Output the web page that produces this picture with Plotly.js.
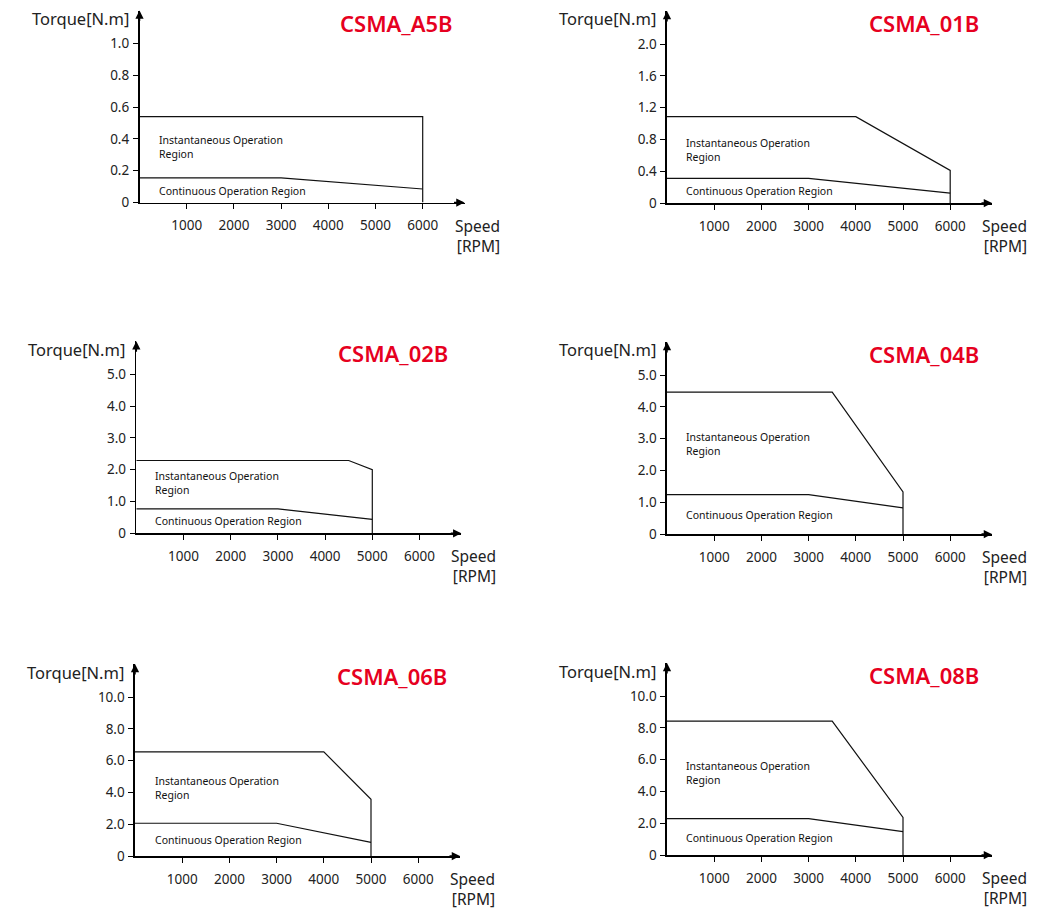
<!DOCTYPE html>
<html><head><meta charset="utf-8">
<script src="https://cdn.plot.ly/plotly-3.0.1.min.js"></script>
<style>html,body{margin:0;padding:0;background:#fff}#chart{width:1043px;height:909px}</style>
</head><body><div id="chart"></div>
<script>
// ---------- data ----------
const models = ["CSMA_A5B", "CSMA_01B", "CSMA_02B", "CSMA_04B", "CSMA_06B", "CSMA_08B"];

const instSpeed_A5B = [0, 6000, 6000];
const instTorque_A5B = [0.54, 0.54, 0];
const contSpeed_A5B = [0, 3000, 6000];
const contTorque_A5B = [0.155, 0.155, 0.085];

const instSpeed_01B = [0, 4000, 6000, 6000];
const instTorque_01B = [1.086, 1.086, 0.41, 0];
const contSpeed_01B = [0, 3000, 6000];
const contTorque_01B = [0.31, 0.31, 0.125];

const instSpeed_02B = [0, 4500, 5000, 5000];
const instTorque_02B = [2.29, 2.29, 2.0, 0];
const contSpeed_02B = [0, 3000, 5000];
const contTorque_02B = [0.77, 0.77, 0.44];

const instSpeed_04B = [0, 3500, 5000, 5000];
const instTorque_04B = [4.46, 4.46, 1.32, 0];
const contSpeed_04B = [0, 3000, 5000];
const contTorque_04B = [1.24, 1.24, 0.82];

const instSpeed_06B = [0, 4000, 5000, 5000];
const instTorque_06B = [6.55, 6.55, 3.57, 0];
const contSpeed_06B = [0, 3000, 5000];
const contTorque_06B = [2.06, 2.06, 0.86];

const instSpeed_08B = [0, 3500, 5000, 5000];
const instTorque_08B = [8.42, 8.42, 2.36, 0];
const contSpeed_08B = [0, 3000, 5000];
const contTorque_08B = [2.29, 2.29, 1.47];

const xTickVals = [1000, 2000, 3000, 4000, 5000, 6000];
const xTickText = ["1000", "2000", "3000", "4000", "5000", "6000"];

const yTickVals_A5B = [0, 0.2, 0.4, 0.6, 0.8, 1.0];
const yTickText_A5B = ["0", "0.2", "0.4", "0.6", "0.8", "1.0"];
const yTickVals_01B = [0, 0.4, 0.8, 1.2, 1.6, 2.0];
const yTickText_01B = ["0", "0.4", "0.8", "1.2", "1.6", "2.0"];
const yTickVals_02B = [0, 1, 2, 3, 4, 5];
const yTickText_02B = ["0", "1.0", "2.0", "3.0", "4.0", "5.0"];
const yTickVals_04B = [0, 1, 2, 3, 4, 5];
const yTickText_04B = ["0", "1.0", "2.0", "3.0", "4.0", "5.0"];
const yTickVals_06B = [0, 2, 4, 6, 8, 10];
const yTickText_06B = ["0", "2.0", "4.0", "6.0", "8.0", "10.0"];
const yTickVals_08B = [0, 2, 4, 6, 8, 10];
const yTickText_08B = ["0", "2.0", "4.0", "6.0", "8.0", "10.0"];

const yAxisTitle = "Torque[N.m]";
const xAxisTitle = "Speed<br>[RPM]";
const instLabel = "Instantaneous Operation<br>Region";
const contLabel = "Continuous Operation Region";

// ---------- layout (pixel geometry) ----------
const W = 1043, H = 909;
const series = [
  {inst:[instSpeed_A5B, instTorque_A5B], cont:[contSpeed_A5B, contTorque_A5B], yv:yTickVals_A5B, yt:yTickText_A5B},
  {inst:[instSpeed_01B, instTorque_01B], cont:[contSpeed_01B, contTorque_01B], yv:yTickVals_01B, yt:yTickText_01B},
  {inst:[instSpeed_02B, instTorque_02B], cont:[contSpeed_02B, contTorque_02B], yv:yTickVals_02B, yt:yTickText_02B},
  {inst:[instSpeed_04B, instTorque_04B], cont:[contSpeed_04B, contTorque_04B], yv:yTickVals_04B, yt:yTickText_04B},
  {inst:[instSpeed_06B, instTorque_06B], cont:[contSpeed_06B, contTorque_06B], yv:yTickVals_06B, yt:yTickText_06B},
  {inst:[instSpeed_08B, instTorque_08B], cont:[contSpeed_08B, contTorque_08B], yv:yTickVals_08B, yt:yTickText_08B}
];
// origin pixel positions and region-label pixel positions
const geom = [
  {ox:139.5, oy:202.5, lx:156.7, i1:141.7, i2:153.0, c:190.7},
  {ox:667.0, oy:203.0, lx:684.3, i1:144.0, i2:155.0, c:191.0},
  {ox:136.3, oy:533.3, lx:153.3, i1:476.7, i2:488.3, c:520.7},
  {ox:667.0, oy:534.0, lx:684.3, i1:438.7, i2:449.3, c:515.3},
  {ox:135.0, oy:856.0, lx:152.7, i1:781.7, i2:794.0, c:839.7},
  {ox:667.0, oy:855.0, lx:684.3, i1:766.7, i2:778.3, c:837.7}
];
const AXW = 325, AXH = 192, TOPTICK = 159, PX_PER_1000 = 47.2;

const font = "Noto Sans, DejaVu Sans, sans-serif";
const traces = [];
const layout = {
  width: W, height: H, margin: {l:0, r:0, t:0, b:0},
  paper_bgcolor: "#fff", plot_bgcolor: "rgba(0,0,0,0)",
  showlegend: false, annotations: [], font: {family: font, color: "#222"}
};
const px = x => x / W;
const py = y => 1 - y / H;

series.forEach((s, i) => {
  const g = geom[i];
  const n = i === 0 ? "" : String(i + 1);
  const xa = "x" + n, ya = "y" + n;
  const xmax = AXW / PX_PER_1000 * 1000;
  const ymax = s.yv[s.yv.length - 1] * AXH / TOPTICK;
  const lineStyle = {color: "#111", width: 1.2};
  traces.push({x: s.inst[0], y: s.inst[1], xaxis: xa, yaxis: ya, mode: "lines", line: lineStyle, hoverinfo: "skip", cliponaxis: false});
  traces.push({x: s.cont[0], y: s.cont[1], xaxis: xa, yaxis: ya, mode: "lines", line: lineStyle, hoverinfo: "skip", cliponaxis: false});
  layout["xaxis" + n] = {
    domain: [px(g.ox), px(g.ox + AXW)], range: [0, xmax], anchor: ya,
    showgrid: false, zeroline: false, showline: true, linecolor: "#000", linewidth: 1.6,
    ticks: "outside", ticklen: 5, tickwidth: 1, tickcolor: "#000",
    tickvals: xTickVals, ticktext: xTickText, ticklabelstandoff: 5,
    tickfont: {family: font, size: 13.5, color: "#222"}, fixedrange: true
  };
  layout["yaxis" + n] = {
    domain: [py(g.oy), py(g.oy - AXH)], range: [0, ymax], anchor: xa,
    showgrid: false, zeroline: false, showline: true, linecolor: "#000", linewidth: 1.6,
    ticks: "outside", ticklen: 5, tickwidth: 1, tickcolor: "#000",
    tickvals: s.yv, ticktext: s.yt, ticklabelstandoff: 1,
    tickfont: {family: font, size: 13.5, color: "#222"}, fixedrange: true
  };
  const A = layout.annotations;
  // axis arrowheads
  A.push({xref: xa, yref: ya, x: xmax, y: 0, ax: -12, ay: 0, text: "", showarrow: true,
          arrowhead: 2, arrowsize: 1.1, arrowwidth: 1.5, arrowcolor: "#000", standoff: 0});
  A.push({xref: xa, yref: ya, x: 0, y: ymax, ax: 0, ay: 12, text: "", showarrow: true,
          arrowhead: 2, arrowsize: 1.1, arrowwidth: 1.5, arrowcolor: "#000", standoff: 0});
  // model title
  A.push({xref: "paper", yref: "paper", x: px(g.ox + 257), y: py(g.oy - 180), xanchor: "center", yanchor: "middle",
          text: models[i], showarrow: false, font: {family: font, size: 22, color: "#e60020", weight: 600}});
  // axis titles
  A.push({xref: "paper", yref: "paper", x: px(g.ox - 9), y: py(g.oy - 184), xanchor: "right", yanchor: "middle",
          text: yAxisTitle, showarrow: false, font: {family: font, size: 16.5, color: "#222"}});
  A.push({xref: "paper", yref: "paper", x: px(g.ox + 361), y: py(g.oy + 33), xanchor: "right", yanchor: "middle",
          align: "right", borderpad: 0, text: xAxisTitle, showarrow: false, font: {family: font, size: 15.5, color: "#222"}});
  // region labels
  const lf = {family: font, size: 10.5, color: "#111"};
  A.push({xref: "paper", yref: "paper", x: px(g.lx), y: py((g.i1 + g.i2) / 2), xanchor: "left", yanchor: "middle",
          align: "left", text: instLabel, showarrow: false, font: lf});
  A.push({xref: "paper", yref: "paper", x: px(g.lx), y: py(g.c), xanchor: "left", yanchor: "middle",
          text: contLabel, showarrow: false, font: lf});
});

Plotly.newPlot("chart", traces, layout, {staticPlot: true, displayModeBar: false});
</script>
</body></html>
